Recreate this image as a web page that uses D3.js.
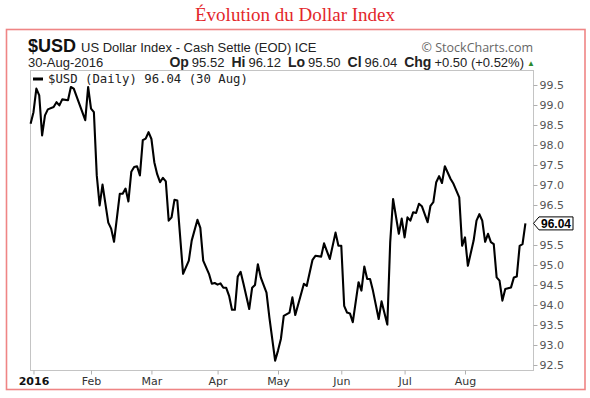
<!DOCTYPE html>
<html>
<head>
<meta charset="utf-8">
<script src="https://cdn.jsdelivr.net/npm/d3@7"></script>
<style>
  body { margin: 0; background: #fff; }
</style>
</head>
<body>
<div id="chart"></div>
<script>
// daily closes (only the turning points)
var dates = [
  "2016-01-01","2016-01-04","2016-01-05","2016-01-06","2016-01-07","2016-01-08","2016-01-11","2016-01-13",
  "2016-01-14","2016-01-15","2016-01-18","2016-01-20","2016-01-21","2016-01-22","2016-01-28","2016-01-29",
  "2016-02-01","2016-02-02","2016-02-03","2016-02-04","2016-02-05","2016-02-09","2016-02-10","2016-02-11",
  "2016-02-15","2016-02-16","2016-02-17","2016-02-18","2016-02-19","2016-02-22","2016-02-23","2016-02-24",
  "2016-02-25","2016-02-26","2016-02-29","2016-03-01","2016-03-02","2016-03-03","2016-03-04","2016-03-07",
  "2016-03-08","2016-03-09","2016-03-10","2016-03-11","2016-03-14","2016-03-16","2016-03-18","2016-03-21",
  "2016-03-23","2016-03-24","2016-03-25","2016-03-29","2016-03-30","2016-03-31","2016-04-01","2016-04-04",
  "2016-04-05","2016-04-06","2016-04-07","2016-04-08","2016-04-11","2016-04-12","2016-04-13","2016-04-14",
  "2016-04-18","2016-04-19","2016-04-20","2016-04-21","2016-04-22","2016-04-26","2016-04-27","2016-04-29",
  "2016-05-02","2016-05-03","2016-05-04","2016-05-06","2016-05-09","2016-05-10","2016-05-13","2016-05-16",
  "2016-05-18","2016-05-19","2016-05-23","2016-05-24","2016-05-26","2016-05-30","2016-05-31","2016-06-01",
  "2016-06-02","2016-06-03","2016-06-06","2016-06-07","2016-06-09","2016-06-10","2016-06-13","2016-06-14",
  "2016-06-15","2016-06-16","2016-06-20","2016-06-21","2016-06-23","2016-06-24","2016-06-27","2016-06-29",
  "2016-06-30","2016-07-01","2016-07-04","2016-07-05","2016-07-06","2016-07-07","2016-07-08","2016-07-11",
  "2016-07-13","2016-07-14","2016-07-15","2016-07-18","2016-07-19","2016-07-20","2016-07-21","2016-07-25",
  "2016-07-26","2016-07-28","2016-07-29","2016-08-01","2016-08-02","2016-08-04","2016-08-05","2016-08-08",
  "2016-08-09","2016-08-10","2016-08-11","2016-08-12","2016-08-15","2016-08-16","2016-08-17","2016-08-18",
  "2016-08-19","2016-08-22","2016-08-23","2016-08-24","2016-08-25","2016-08-26","2016-08-29","2016-08-30"
];
var values = [
  98.53, 98.82, 99.41, 99.24, 98.24, 98.74, 98.89, 98.95,
  99.07, 98.99, 99.14, 99.12, 99.45, 99.41, 98.62, 99.45,
  98.91, 98.82, 97.24, 96.49, 97.01, 96.06, 95.91, 95.58,
  96.78, 96.78, 96.91, 96.59, 97.33, 97.45, 97.47, 97.24,
  98.12, 98.16, 98.32, 98.15, 97.57, 97.27, 97.07, 97.18,
  97.09, 96.11, 96.19, 96.63, 96.61, 94.78, 95.11, 95.61,
  96.13, 95.93, 95.11, 94.78, 94.53, 94.55, 94.51, 94.54,
  94.43, 94.43, 94.23, 93.88, 93.88, 94.71, 94.83, 94.53,
  93.90, 94.43, 94.50, 95.02, 94.69, 94.31, 93.69, 92.61,
  92.86, 93.15, 93.73, 93.81, 94.19, 93.75, 94.53, 94.48,
  95.13, 95.23, 95.21, 95.54, 95.15, 95.81, 95.48, 95.48,
  93.98, 93.81, 93.79, 93.57, 94.57, 94.36, 94.96, 94.65,
  94.65, 94.36, 93.65, 94.09, 93.51, 95.57, 96.65, 95.78,
  96.16, 95.69, 96.19, 96.11, 96.32, 96.30, 96.53, 96.47,
  96.07, 96.48, 96.57, 97.07, 97.22, 97.05, 97.47, 97.15,
  97.03, 96.69, 95.48, 95.69, 94.98, 95.61, 96.11, 96.27,
  96.11, 95.58, 95.78, 95.57, 95.52, 94.69, 94.61, 94.11,
  94.40, 94.42, 94.44, 94.69, 94.71, 95.48, 95.52, 96.04
];

var monthTicks = ["2016-01-04","2016-02-01","2016-03-01","2016-04-01","2016-05-02","2016-06-01","2016-07-01","2016-08-01"];
var monthLabels = ["2016","Feb","Mar","Apr","May","Jun","Jul","Aug"];
// 96.0 sits under the last-close tag, so it is not labelled
var yTicks = [92.5, 93.0, 93.5, 94.0, 94.5, 95.0, 95.5, 96.5, 97.0, 97.5, 98.0, 98.5, 99.0, 99.5];

var quoteLabels = ["Op", "Hi", "Lo", "Cl", "Chg"];
var quoteValues = ["95.52", "96.12", "95.50", "96.04", "+0.50 (+0.52%)"];
var lastClose = 96.04;

var width = 590, height = 398;
var plot = {left: 30, right: 533, top: 70, bottom: 370};

var parseDate = d3.timeParse("%Y-%m-%d");
var startDay = parseDate("2016-01-01");
// stockcharts spaces the points by trading day, so count weekdays
function tradingDay(s) {
  var d = parseDate(s);
  return d3.timeDays(startDay, d).filter(function(x){ return x.getDay() % 6 != 0; }).length;
}

var svg = d3.select("#chart").append("svg").attr("width", width).attr("height", height)
  .style("font-family", "'Liberation Sans', Arial, sans-serif");

svg.append("rect").attr("width", width).attr("height", height).attr("fill", "#fff");

// title above the red frame
svg.append("text").attr("x", 295).attr("y", 21).attr("text-anchor", "middle")
  .style("font-family", "'Liberation Serif', 'Times New Roman', serif").style("font-size", "19px")
  .attr("fill", "#e3262b").text("Évolution du Dollar Index");

svg.append("rect").attr("x", 6.5).attr("y", 29.5).attr("width", 578.5).attr("height", 360)
  .attr("fill", "none").attr("stroke", "#ef8585").attr("stroke-width", 1.6);

// header lines
var head = svg.append("text").attr("x", 28).attr("y", 52);
head.append("tspan").style("font-family", "'Liberation Sans Narrow', 'Arial Narrow', 'Liberation Sans', sans-serif")
  .style("font-weight", "bold").style("font-size", "18px").attr("fill", "#111").text("$USD");
head.append("tspan").attr("dx", 5).style("font-size", "13px").attr("fill", "#222")
  .text("US Dollar Index - Cash Settle (EOD) ICE");

svg.append("text").attr("x", 533).attr("y", 52).attr("text-anchor", "end")
  .style("font-family", "'Open Sans', sans-serif").style("font-size", "12.5px").attr("fill", "#666")
  .text("© StockCharts.com");

svg.append("text").attr("x", 28).attr("y", 66.5).style("font-size", "13px").attr("fill", "#222").text("30-Aug-2016");

var quote = svg.append("text").attr("x", 524).attr("y", 66.5).attr("text-anchor", "end")
  .style("font-size", "13px").attr("fill", "#222");
quoteLabels.forEach(function(lab, i) {
  quote.append("tspan").attr("dx", i == 0 ? 0 : 7).style("font-weight", "bold").style("font-size", "14px").text(lab);
  quote.append("tspan").attr("dx", 3).text(quoteValues[i]);
});
svg.append("text").attr("x", 527).attr("y", 65.5).style("font-size", "8px").attr("fill", "#2c8a2c").text("▲");

// scales
var xScale = d3.scaleLinear().domain([0, 174.5]).range([30.6, 532.6]);
var yScale = d3.scaleLinear().domain([92.375, 99.875]).range([plot.bottom, plot.top]);

svg.append("rect").attr("x", plot.left + 0.5).attr("y", plot.top + 0.5)
  .attr("width", plot.right - plot.left).attr("height", plot.bottom - plot.top)
  .attr("fill", "#fff").attr("stroke", "#c4c4c4").attr("stroke-width", 1);

// right axis
var yAxis = d3.axisRight(yScale).tickValues(yTicks).tickFormat(d3.format(".1f")).tickSize(4).tickPadding(2);
var gy = svg.append("g").attr("transform", "translate(" + (plot.right + 0.5) + ",0)").call(yAxis);
gy.select(".domain").remove();
gy.selectAll("line").attr("stroke", "#b0b0b0");
gy.selectAll("text").style("font-family", "'DejaVu Sans', Verdana, sans-serif").style("font-size", "11px").attr("fill", "#555");

// bottom axis on trading days
var xAxis = d3.axisBottom(xScale).tickValues(monthTicks.map(tradingDay))
  .tickFormat(function(d, i){ return monthLabels[i]; }).tickSize(4).tickPadding(3);
var gx = svg.append("g").attr("transform", "translate(0," + (plot.bottom + 0.5) + ")").call(xAxis);
gx.select(".domain").remove();
gx.selectAll("line").attr("stroke", "#b0b0b0");
gx.selectAll("text").style("font-family", "'DejaVu Sans', Verdana, sans-serif").style("font-size", "11px")
  .style("font-weight", function(d, i){ return i == 0 ? "bold" : "normal"; })
  .attr("fill", function(d, i){ return i == 0 ? "#111" : "#333"; });

// price line
var line = d3.line().x(function(d){ return xScale(d.t); }).y(function(d){ return yScale(d.v); });
var series = dates.map(function(s, i){ return {t: tradingDay(s), v: values[i]}; });
svg.append("path").datum(series).attr("d", line).attr("fill", "none")
  .attr("stroke", "#000").attr("stroke-width", 2.1).attr("stroke-linejoin", "round");

// legend
svg.append("line").attr("x1", 33).attr("x2", 43).attr("y1", 79).attr("y2", 79).attr("stroke", "#000").attr("stroke-width", 3);
svg.append("text").attr("x", 48).attr("y", 83)
  .style("font-family", "'DejaVu Sans Mono', monospace").style("font-size", "12.3px").attr("fill", "#222")
  .text("$USD (Daily) " + lastClose.toFixed(2) + " (30 Aug)");

// last value tag on the axis
var ly = yScale(lastClose);
var tag = svg.append("g").attr("transform", "translate(" + plot.right + "," + ly + ")");
tag.append("path").attr("d", "M0.5,0 L6,-6.5 L40,-6.5 L40,6.5 L6,6.5 Z")
  .attr("fill", "#fff").attr("stroke", "#000").attr("stroke-width", 1);
tag.append("text").attr("x", 8).attr("y", 4.5).style("font-weight", "bold").style("font-size", "12px")
  .attr("fill", "#000").text(lastClose.toFixed(2));
</script>
</body>
</html>
